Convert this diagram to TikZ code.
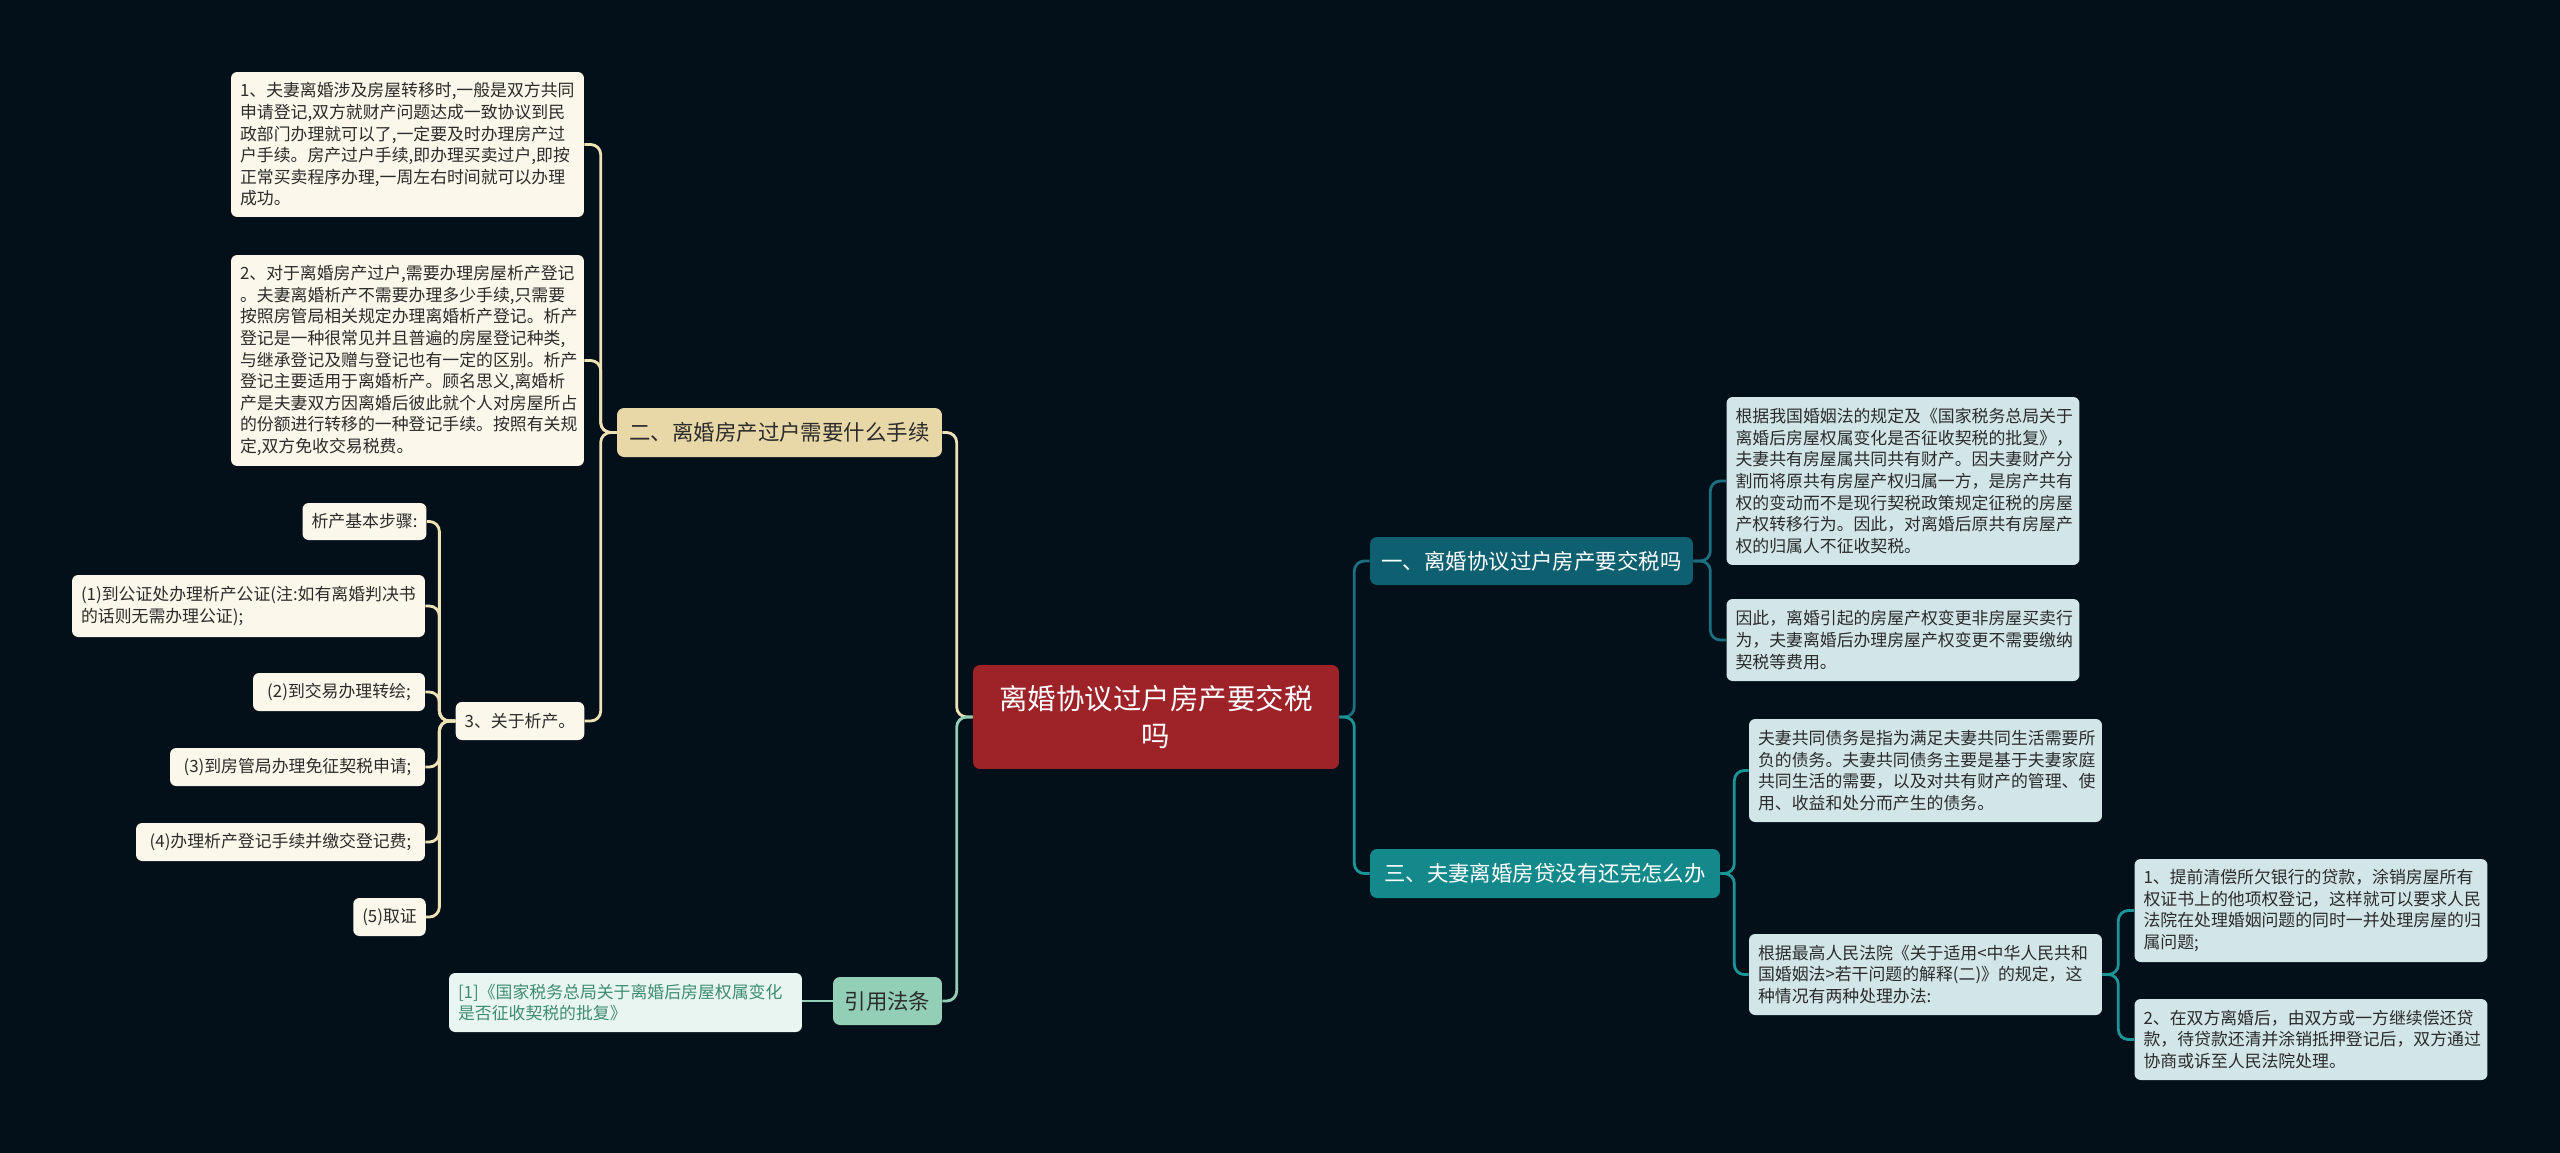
\documentclass[tikz,border=0pt]{standalone}
\usepackage{fontspec}
\setmainfont{Noto Sans CJK SC}
\usepackage{xcolor}
\usepackage{tikz}
\usetikzlibrary{positioning, calc}

\definecolor{bgnight}{HTML}{03101A}
\definecolor{rootred}{HTML}{9E2329}
\definecolor{tealdark}{HTML}{0E5F70}
\definecolor{tealmid}{HTML}{14898C}
\definecolor{tealline}{HTML}{1D6E7E}
\definecolor{tealline2}{HTML}{1A9699}
\definecolor{iceblue}{HTML}{D2E6E8}
\definecolor{sand}{HTML}{E9D8A7}
\definecolor{cream}{HTML}{FBF7EA}
\definecolor{creamline}{HTML}{EFE3B6}
\definecolor{mint}{HTML}{93CEB6}
\definecolor{mintpale}{HTML}{E8F5F1}
\definecolor{mintink}{HTML}{3E8C72}
\definecolor{inkgray}{HTML}{2B2B2B}

\tikzset{
  rootbox/.style={
    rounded corners=4pt, fill=rootred, text=white, align=center,
    font=\fontsize{16.2}{20.8}\selectfont, inner sep=0pt
  },
  topicbox/.style={
    rounded corners=4pt, align=center,
    font=\fontsize{12.2}{15}\selectfont, inner sep=0pt
  },
  leafbox/.style={
    rounded corners=3.5pt, align=left, text=inkgray,
    font=\fontsize{9.6}{12.3}\selectfont, inner xsep=0.18cm, inner ysep=0pt
  },
  leafwide/.style={
    leafbox, text width=6.70cm, minimum width=7.06cm
  },
  leafshort/.style={
    leafbox, align=center, fill=cream, minimum height=0.76cm
  },
  branchline/.style={line width=1.6pt, rounded corners=0.2cm},
}

\begin{document}
\begin{tikzpicture}[x=0.02cm, y=-0.02cm]
  % Background
  \fill[bgnight] (0,0) rectangle (2560,1153);

  % === Root ===
  \node[rootbox, minimum width=7.32cm, minimum height=2.08cm] (root) at (1156, 717)
    {离婚协议过户房产要交税\\吗};

  % === Topics ===
  \node[topicbox, fill=tealdark, text=white, minimum width=6.46cm, minimum height=0.96cm] (topicone) at (1531.5, 561)
    {一、离婚协议过户房产要交税吗};
  \node[topicbox, fill=tealmid, text=white, minimum width=7.0cm, minimum height=0.98cm] (topicthree) at (1545, 873.5)
    {三、夫妻离婚房贷没有还完怎么办};
  \node[topicbox, fill=sand, text=inkgray, minimum width=6.5cm, minimum height=0.98cm] (topictwo) at (779.5, 432.5)
    {二、离婚房产过户需要什么手续};
  \node[topicbox, fill=mint, text=inkgray, minimum width=2.18cm, minimum height=0.96cm] (refs) at (887.5, 1001)
    {引用法条};

  % === Topic one leaves ===
  \node[leafwide, fill=iceblue, minimum height=3.36cm] (taxrule) at (1903, 481)
    {根据我国婚姻法的规定及《国家税务总局关于\\
    离婚后房屋权属变化是否征收契税的批复》，\\
    夫妻共有房屋属共同共有财产。因夫妻财产分\\
    割而将原共有房屋产权归属一方，是房产共有\\
    权的变动而不是现行契税政策规定征税的房屋\\
    产权转移行为。因此，对离婚后原共有房屋产\\
    权的归属人不征收契税。};
  \node[leafwide, fill=iceblue, minimum height=1.64cm] (taxfree) at (1903, 640)
    {因此，离婚引起的房屋产权变更非房屋买卖行\\
    为，夫妻离婚后办理房屋产权变更不需要缴纳\\
    契税等费用。};

  % === Topic three leaves ===
  \node[leafwide, fill=iceblue, minimum height=2.06cm] (debt) at (1925.5, 770.5)
    {夫妻共同债务是指为满足夫妻共同生活需要所\\
    负的债务。夫妻共同债务主要是基于夫妻家庭\\
    共同生活的需要，以及对共有财产的管理、使\\
    用、收益和处分而产生的债务。};
  \node[leafwide, fill=iceblue, minimum height=1.62cm] (court) at (1925.5, 974.5)
    {根据最高人民法院《关于适用<中华人民共和\\
    国婚姻法>若干问题的解释(二)》的规定，这\\
    种情况有两种处理办法:};
  \node[leafwide, fill=iceblue, minimum height=2.06cm] (wayone) at (2311, 910.5)
    {1、提前清偿所欠银行的贷款，涂销房屋所有\\
    权证书上的他项权登记，这样就可以要求人民\\
    法院在处理婚姻问题的同时一并处理房屋的归\\
    属问题;};
  \node[leafwide, fill=iceblue, minimum height=1.62cm] (waytwo) at (2311, 1039.5)
    {2、在双方离婚后，由双方或一方继续偿还贷\\
    款，待贷款还清并涂销抵押登记后，双方通过\\
    协商或诉至人民法院处理。};

  % === Topic two leaves ===
  \node[leafwide, fill=cream, minimum height=2.9cm] (transfer) at (407.5, 144.5)
    {1、夫妻离婚涉及房屋转移时,一般是双方共同\\
    申请登记,双方就财产问题达成一致协议到民\\
    政部门办理就可以了,一定要及时办理房产过\\
    户手续。房产过户手续,即办理买卖过户,即按\\
    正常买卖程序办理,一周左右时间就可以办理\\
    成功。};
  \node[leafwide, fill=cream, minimum height=4.22cm] (division) at (407.5, 360.5)
    {2、对于离婚房产过户,需要办理房屋析产登记\\
    。夫妻离婚析产不需要办理多少手续,只需要\\
    按照房管局相关规定办理离婚析产登记。析产\\
    登记是一种很常见并且普遍的房屋登记种类,\\
    与继承登记及赠与登记也有一定的区别。析产\\
    登记主要适用于离婚析产。顾名思义,离婚析\\
    产是夫妻双方因离婚后彼此就个人对房屋所占\\
    的份额进行转移的一种登记手续。按照有关规\\
    定,双方免收交易税费。};
  \node[leafshort, minimum width=2.52cm] (aboutdiv) at (520, 721) {3、关于析产。};

  % === Division steps ===
  \node[leafshort, minimum width=2.42cm, minimum height=0.74cm] (stepzero) at (364.5, 521.5) {析产基本步骤:};
  \node[leafbox, fill=cream, text width=6.70cm, minimum height=1.24cm] (stepone) at (248.5, 606)
    {(1)到公证处办理析产公证(注:如有离婚判决书\\
    的话则无需办理公证);};
  \node[leafshort, minimum width=3.44cm] (steptwo) at (339, 692) {(2)到交易办理转绘;};
  \node[leafshort, minimum width=5.1cm] (stepthree) at (297.5, 767) {(3)到房管局办理免征契税申请;};
  \node[leafshort, minimum width=5.78cm] (stepfour) at (280.5, 842) {(4)办理析产登记手续并缴交登记费;};
  \node[leafshort, minimum width=1.42cm] (stepfive) at (389.5, 917) {(5)取证};

  % === Citation ===
  \node[leafwide, fill=mintpale, text=mintink, minimum height=1.18cm] (cite) at (625.5, 1002.5)
    {[1]《国家税务总局关于离婚后房屋权属变化\\
    是否征收契税的批复》};

  % === Connectors ===
  \draw[branchline, tealline] (root.east) -- ++(15,0) |- (topicone.west);
  \draw[branchline, tealline2] (root.east) -- ++(15,0) |- (topicthree.west);
  \draw[branchline, creamline] (root.west) -- ++(-16,0) |- (topictwo.east);
  \draw[branchline, mint] (root.west) -- ++(-16,0) |- (refs.east);

  \foreach \leaf in {taxrule, taxfree}
    \draw[branchline, tealline] (topicone.east) -- ++(17,0) |- (\leaf.west);
  \foreach \leaf in {debt, court}
    \draw[branchline, tealline2] (topicthree.east) -- ++(14,0) |- (\leaf.west);
  \foreach \leaf in {wayone, waytwo}
    \draw[branchline, tealline2] (court.east) -- ++(16,0) |- (\leaf.west);

  \foreach \leaf in {transfer, division, aboutdiv}
    \draw[branchline, creamline] (topictwo.west) -- ++(-16,0) |- (\leaf.east);
  \foreach \leaf in {stepzero, stepone, steptwo, stepthree, stepfour, stepfive}
    \draw[branchline, creamline] (aboutdiv.west) -- ++(-16,0) |- (\leaf.east);

  \draw[branchline, mint] (refs.west) -- (refs.west -| cite.east);

\end{tikzpicture}
\end{document}
